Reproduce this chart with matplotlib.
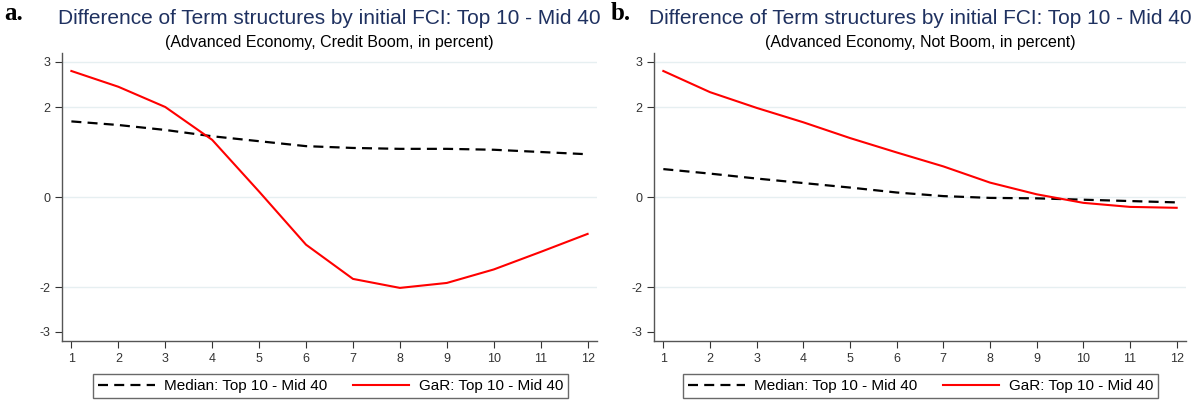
import matplotlib
matplotlib.use('Agg')
import matplotlib.pyplot as plt

# horizon (quarters)
horizon = [1, 2, 3, 4, 5, 6, 7, 8, 9, 10, 11, 12]

# panel a: credit boom
median_boom = [1.68, 1.60, 1.49, 1.35, 1.24, 1.13, 1.09, 1.07, 1.07, 1.05, 1.00, 0.95]
gar_boom = [2.80, 2.45, 2.00, 1.27, 0.12, -1.06, -1.82, -2.02, -1.91, -1.61, -1.22, -0.82]

# panel b: not boom
median_noboom = [0.62, 0.52, 0.41, 0.31, 0.21, 0.10, 0.02, -0.02, -0.03, -0.06, -0.09, -0.12]
gar_noboom = [2.80, 2.33, 1.98, 1.66, 1.31, 0.99, 0.68, 0.32, 0.06, -0.13, -0.22, -0.24]

yticks = [-3, -2, 0, 2, 3]
grid_at = [-2, 0, 2, 3]

title = 'Difference of Term structures by initial FCI: Top 10 - Mid 40'
subtitles = ['(Advanced Economy, Credit Boom, in percent)',
             '(Advanced Economy, Not Boom, in percent)']
panel_labels = ['a.', 'b.']
labels = ['Median: Top 10 - Mid 40', 'GaR: Top 10 - Mid 40']

plt.rcParams['font.family'] = ['Liberation Sans', 'DejaVu Sans']
plt.rcParams['axes.unicode_minus'] = False

W, H = 1204, 417
fig = plt.figure(figsize=(W / 100, H / 100), dpi=100)

# axes boxes in pixels: left, right
boxes = [(62, 597), (654, 1186)]
top_px, bottom_px = 53, 341
legend_boxes = [(90, 571), (681, 1160)]
label_x = [4, 611]

data = [(median_boom, gar_boom), (median_noboom, gar_noboom)]

for i in range(2):
    l, r = boxes[i]
    ax = fig.add_axes([l / W, 1 - bottom_px / H, (r - l) / W, (bottom_px - top_px) / H])
    med, gar = data[i]
    for g in grid_at:
        ax.axhline(g, color='#e6eff1', lw=1, zorder=0)
    ax.plot(horizon, med, color='black', ls=(0, (4.5, 2.8)), lw=1.6, label=labels[0])
    ax.plot(horizon, gar, color='#ff0000', lw=1.5, label=labels[1])
    ax.set_xlim(0.8, 12.2)
    ax.set_ylim(-3.2, 3.2)
    ax.set_xticks(horizon)
    ax.set_yticks(yticks)
    ax.tick_params(labelsize=9, colors='#333333', length=5, width=0.8)
    for s in ['top', 'right']:
        ax.spines[s].set_visible(False)
    for s in ['left', 'bottom']:
        ax.spines[s].set_color('#555555')
        ax.spines[s].set_linewidth(1)

    cx = (l + r) / 2 / W
    fig.text(cx, 1 - 19 / H, title, ha='center', va='center', fontsize=15, color='#1f3160')
    fig.text(cx, 1 - 43 / H, subtitles[i], ha='center', va='center', fontsize=11.5, color='black')
    fig.text(label_x[i] / W, 1 - 14 / H, panel_labels[i], ha='left', va='center',
             fontsize=18, fontweight='bold', family='Liberation Serif')

    lx0, lx1 = legend_boxes[i]
    leg = ax.legend(loc='center', bbox_to_anchor=((lx0 + lx1) / 2 / W, 1 - 386 / H),
                    bbox_transform=fig.transFigure, ncol=2, fontsize=11, frameon=True,
                    fancybox=False, edgecolor='#444444', handlelength=3.7, columnspacing=1.7,
                    borderpad=0.35, handletextpad=0.6, borderaxespad=0)
    leg.get_frame().set_linewidth(1)

plt.savefig('out.png', dpi=100)
